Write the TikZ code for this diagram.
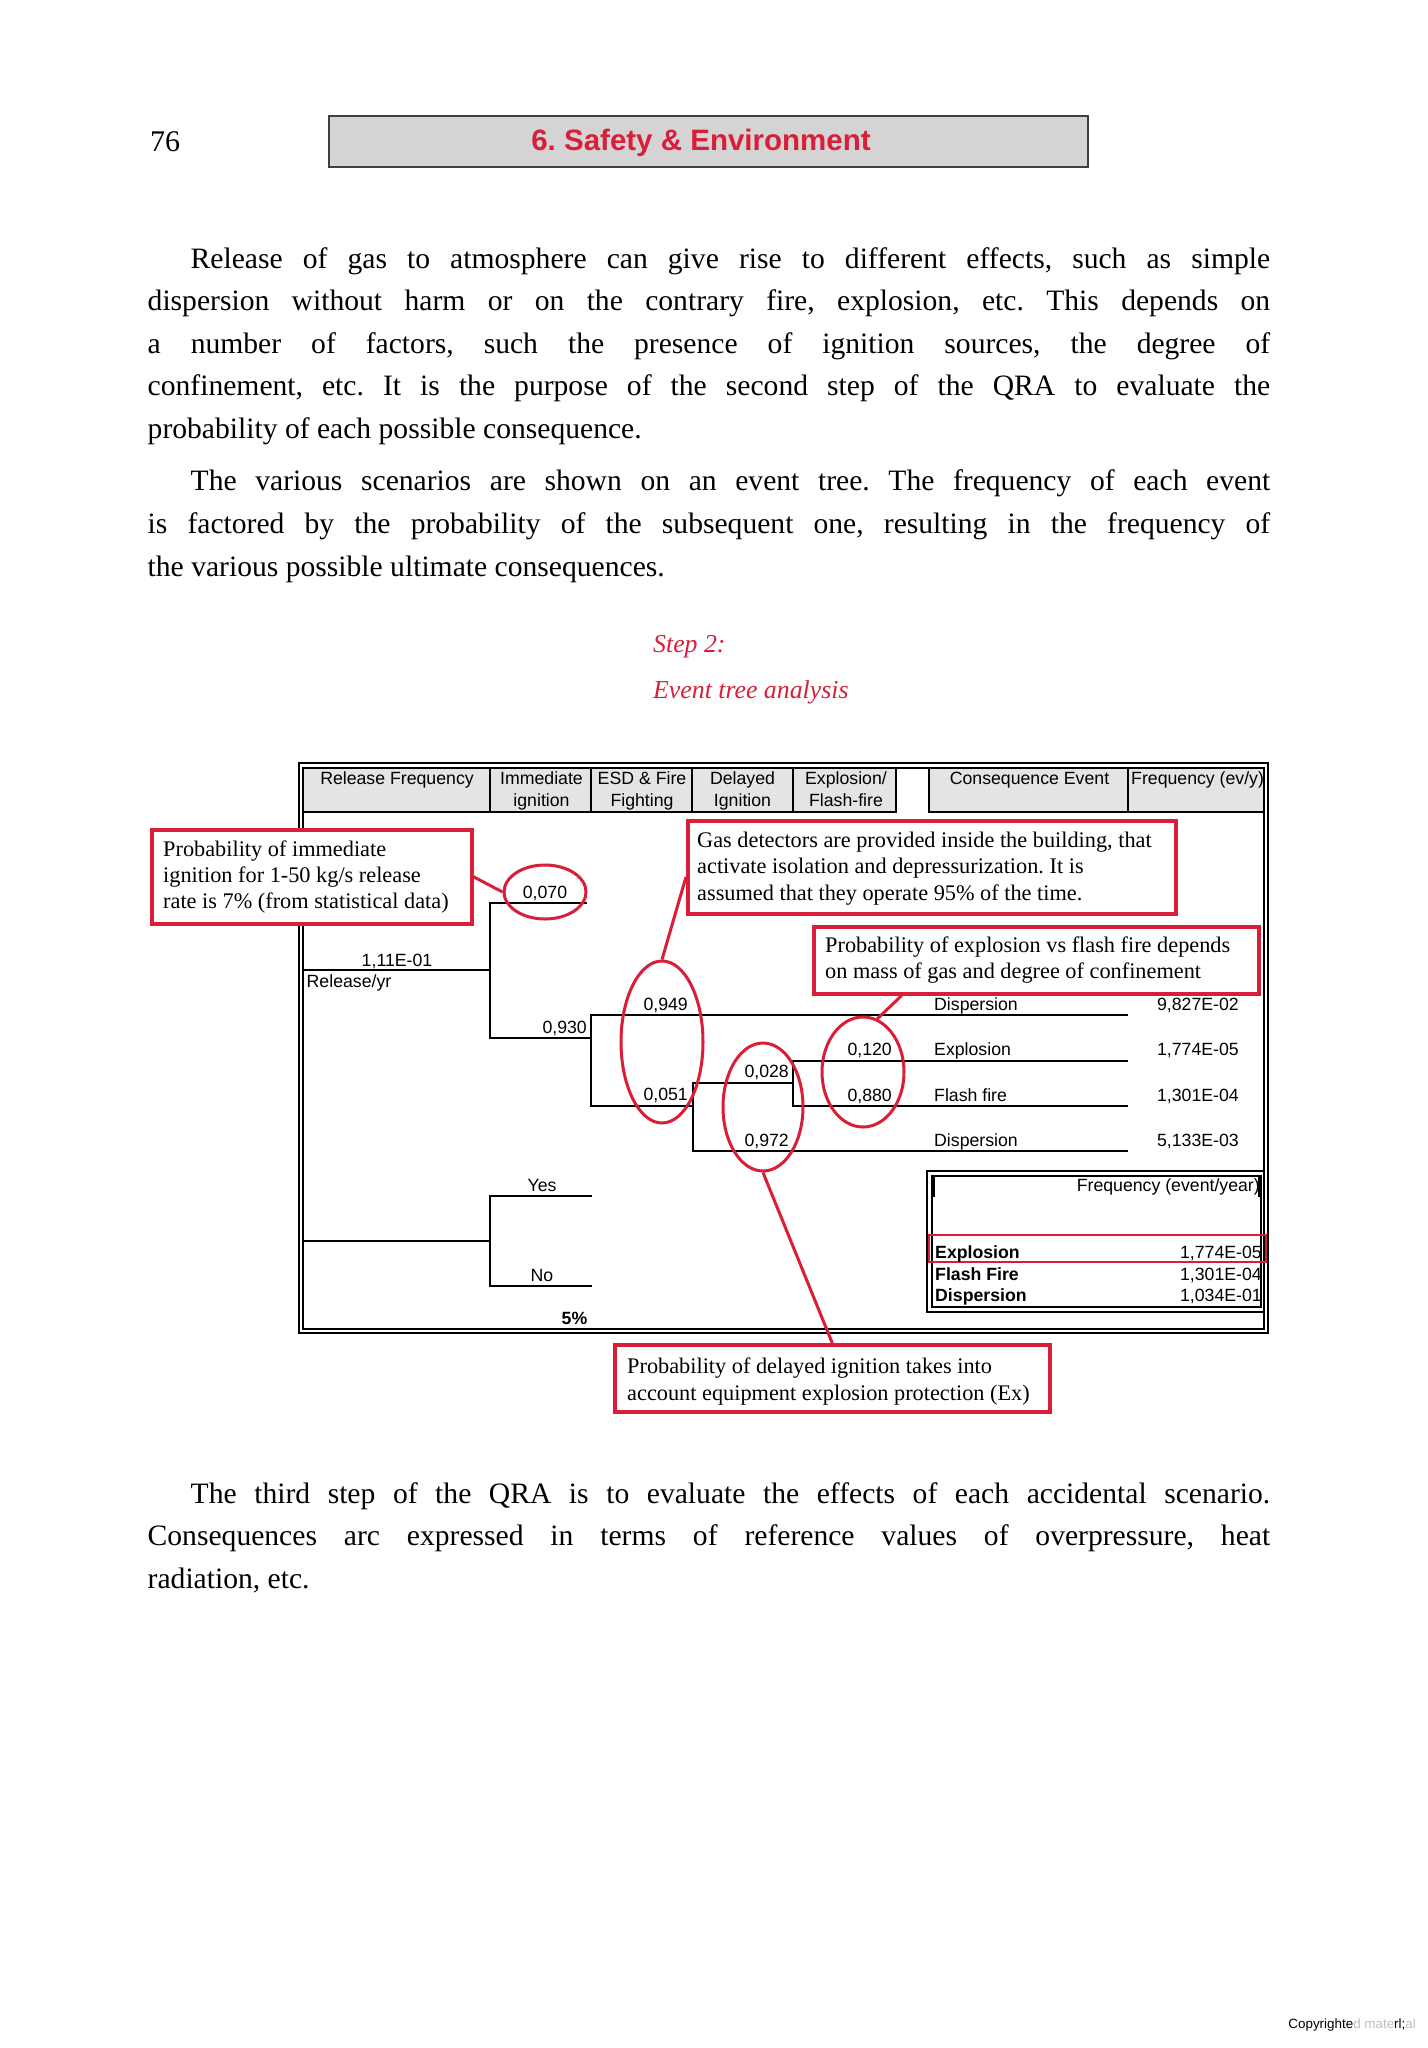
\documentclass[tikz,border=0pt]{standalone}
\usepackage{fontspec}
\setmainfont{Liberation Serif}
\setsansfont{Liberation Sans}
\usetikzlibrary{shapes.geometric,calc}
\definecolor{qred}{RGB}{216,30,56}
\definecolor{hdrgray}{RGB}{212,212,212}
\definecolor{cellgray}{RGB}{228,228,228}
\newcommand\bodyfnt{\fontsize{29.6}{42.4}\selectfont}
\newcommand\dgfnt{\sffamily\fontsize{17.7}{21}\selectfont}
\newcommand\cofnt{\fontsize{22.3}{26.5}\selectfont}
\frenchspacing
\begin{document}
\begin{tikzpicture}[x=1pt,y=-1pt,
  bodyl/.style={anchor=base west, inner sep=0, font=\bodyfnt},
  dg/.style={inner sep=0, font=\dgfnt},
  dgb/.style={inner sep=0, font=\dgfnt\bfseries},
  coline/.style={anchor=base west, inner sep=0, font=\cofnt},
  cobox/.style={draw=qred, line width=3.5pt, anchor=north west, inner sep=0},
  ring/.style={ellipse, draw=qred, line width=3pt, inner sep=0},
  lead/.style={draw=qred, line width=3pt},
  tree/.style={line width=2.5pt, line join=miter},
  frm/.style={line width=2pt},
  cell/.style={draw, line width=2pt, fill=cellgray}]
\useasboundingbox[fill=white] (0,0) rectangle (1427,2048);

% ---------- page header ----------
\node[anchor=base west, inner sep=0, font=\fontsize{30}{36}\selectfont] (pno) at (150,151) {76};
\node[draw=black!75, fill=hdrgray, line width=2pt, anchor=north west, minimum width=759pt, minimum height=51pt, inner sep=0] (hbox) at (328,115) {};
\node[anchor=base, inner sep=0, text=qred, font=\sffamily\bfseries\fontsize{29.5}{34}\selectfont] (htitle) at (701,150.5) {6. Safety \& Environment};

% ---------- paragraph 1 ----------
\node[bodyl] (p1a) at (190.5,268) {\makebox[1079.5pt][s]{Release of gas to atmosphere can give rise to different effects, such as simple}};
\node[bodyl] (p1b) at (147.5,310.5) {\makebox[1122.5pt][s]{dispersion without harm or on the contrary fire, explosion, etc. This depends on}};
\node[bodyl] (p1c) at (147.5,353) {\makebox[1122.5pt][s]{a number of factors, such the presence of ignition sources, the degree of}};
\node[bodyl] (p1d) at (147.5,395.5) {\makebox[1122.5pt][s]{confinement, etc. It is the purpose of the second step of the QRA to evaluate the}};
\node[bodyl] (p1e) at (147.5,438) {probability of each possible consequence.};

% ---------- paragraph 2 ----------
\node[bodyl] (p2a) at (190.5,490) {\makebox[1079.5pt][s]{The various scenarios are shown on an event tree. The frequency of each event}};
\node[bodyl] (p2b) at (147.5,533) {\makebox[1122.5pt][s]{is factored by the probability of the subsequent one, resulting in the frequency of}};
\node[bodyl] (p2c) at (147.5,576) {the various possible ultimate consequences.};

% ---------- step caption ----------
\node[anchor=base west, inner sep=0, text=qred, font=\fontsize{25.8}{31}\selectfont\itshape] (s2a) at (653,652) {Step 2:};
\node[anchor=base west, inner sep=0, text=qred, font=\fontsize{25.8}{31}\selectfont\itshape] (s2b) at (653,698) {Event tree analysis};

% ---------- diagram frame ----------
\draw[frm] (299,763) rectangle (1268,1333);
\draw[frm] (303,768) rectangle (1264,1329);

% header cells
\draw[cell] (303,768) rectangle (490,812);
\draw[cell] (490,768) rectangle (591,812);
\draw[cell] (591,768) rectangle (692,812);
\draw[cell] (692,768) rectangle (793,812);
\draw[cell] (793,768) rectangle (896,812);
\draw[cell] (929,768) rectangle (1128,812);
\draw[cell] (1128,768) rectangle (1264,812);

\node[dg, anchor=base] (h1) at (397,784.5) {Release Frequency};
\node[dg, anchor=base] (h2a) at (541.5,784.5) {Immediate};
\node[dg, anchor=base] (h2b) at (541.5,806.5) {ignition};
\node[dg, anchor=base] (h3a) at (642,784.5) {ESD \& Fire};
\node[dg, anchor=base] (h3b) at (642,806.5) {Fighting};
\node[dg, anchor=base] (h4a) at (742.5,784.5) {Delayed};
\node[dg, anchor=base] (h4b) at (742.5,806.5) {Ignition};
\node[dg, anchor=base] (h5a) at (846,784.5) {Explosion/};
\node[dg, anchor=base] (h5b) at (846,806.5) {Flash-fire};
\node[dg, anchor=base] (h6) at (1029.5,784.5) {Consequence Event};
\node[dg, anchor=base west] (h7) at (1131,784.5) {Frequency (ev/y)};

% ---------- event tree ----------
\coordinate (rel0) at (303,970);
\coordinate (rel1) at (490,970);
\coordinate (imA) at (490,903);
\coordinate (imB) at (490,1038);
\coordinate (imAe) at (587,903);
\coordinate (esA) at (591,1015);
\coordinate (esB) at (591,1106);
\coordinate (dlA) at (693,1083);
\coordinate (dlB) at (693,1151);
\coordinate (exA) at (793,1061);
\coordinate (exB) at (793,1106);

\draw[tree] (rel0) -- (rel1);
\draw[tree] (imAe) -- (imA) -- (imB) -- (esA |- imB);
\draw[tree] (1128,1015) -- (esA) -- (esB) -- (dlA |- esB);
\draw[tree] (exA |- dlA) -- (dlA) -- (dlB) -- (1128,1151);
\draw[tree] (1128,1061) -- (exA) -- (exB) -- (1128,1106);

\node[dg, anchor=base] (l070) at (545,898) {0,070};
\node[dg, anchor=base] (l111) at (397,966) {1,11E-01};
\node[dg, anchor=base west] (lrel) at (306.5,987) {Release/yr};
\node[dg, anchor=base east] (l930) at (587,1033) {0,930};
\node[dg, anchor=base east] (l949) at (688,1010) {0,949};
\node[dg, anchor=base east] (l051) at (688,1100) {0,051};
\node[dg, anchor=base east] (l028) at (789,1077) {0,028};
\node[dg, anchor=base east] (l972) at (789,1146) {0,972};
\node[dg, anchor=base east] (l120) at (892,1055) {0,120};
\node[dg, anchor=base east] (l880) at (892,1101) {0,880};

\node[dg, anchor=base west] (o1) at (934,1010) {Dispersion};
\node[dg, anchor=base west] (o2) at (934,1055) {Explosion};
\node[dg, anchor=base west] (o3) at (934,1101) {Flash fire};
\node[dg, anchor=base west] (o4) at (934,1146) {Dispersion};
\node[dg, anchor=base east] (f1) at (1239,1010) {9,827E-02};
\node[dg, anchor=base east] (f2) at (1239,1055) {1,774E-05};
\node[dg, anchor=base east] (f3) at (1239,1101) {1,301E-04};
\node[dg, anchor=base east] (f4) at (1239,1146) {5,133E-03};

% yes / no tree
\coordinate (yn0) at (303,1241);
\coordinate (yn1) at (490,1241);
\coordinate (ynY) at (490,1196);
\coordinate (ynN) at (490,1286);
\draw[tree] (yn0) -- (yn1);
\draw[tree] (592,1196) -- (ynY) -- (ynN) -- (592,1286);
\node[dg, anchor=base] (lyes) at (542,1191) {Yes};
\node[dg, anchor=base] (lno) at (542,1281) {No};
\node[dgb, anchor=base] (l5) at (574.5,1324) {5\%};

% ---------- summary box ----------
\draw[frm] (927,1171) rectangle (1264,1312);
\draw[frm] (932,1176) rectangle (1261,1307);
\draw[line width=3.5pt] (933.5,1176) -- (933.5,1197);
\draw[line width=3.5pt] (1259.5,1176) -- (1259.5,1197);
\node[dg, anchor=base east] (sfh) at (1260,1191) {Frequency (event/year)};
\draw[qred, line width=2.5pt] (929,1235) rectangle (1266,1262);
\node[dgb, anchor=base west] (s1) at (935,1258) {Explosion};
\node[dg, anchor=base east] (s1v) at (1262,1258) {1,774E-05};
\node[dgb, anchor=base west] (s2) at (935,1280) {Flash Fire};
\node[dg, anchor=base east] (s2v) at (1262,1280) {1,301E-04};
\node[dgb, anchor=base west] (s3) at (935,1301) {Dispersion};
\node[dg, anchor=base east] (s3v) at (1262,1301) {1,034E-01};

% ---------- red rings ----------
\node[ring, minimum width=82pt, minimum height=54pt] (e1) at (545,892) {};
\node[ring, minimum width=82pt, minimum height=162pt] (e2) at (662,1042) {};
\node[ring, minimum width=80pt, minimum height=128pt] (e3) at (763,1107) {};
\node[ring, minimum width=82pt, minimum height=110pt] (e4) at (863,1072) {};

% ---------- callouts ----------
\node[cobox, fill=white, minimum width=320pt, minimum height=94pt] (c1) at (150,828) {};
\node[coline] (c1a) at (163,856) {Probability of immediate};
\node[coline] (c1b) at (163,882) {ignition for 1-50 kg/s release};
\node[coline] (c1c) at (163,908) {rate is 7\% (from statistical data)};

\node[cobox, fill=white, minimum width=488pt, minimum height=93pt] (c2) at (686,819) {};
\node[coline] (c2a) at (697,847) {Gas detectors are provided inside the building, that};
\node[coline] (c2b) at (697,873) {activate isolation and depressurization. It is};
\node[coline] (c2c) at (697,900) {assumed that they operate 95\% of the time.};

\node[cobox, fill=white, minimum width=445pt, minimum height=67pt] (c3) at (812,925) {};
\node[coline] (c3a) at (825,952) {Probability of explosion vs flash fire depends};
\node[coline] (c3b) at (825,978) {on mass of gas and degree of confinement};

\node[cobox, fill=white, minimum width=435pt, minimum height=67pt] (c4) at (613,1343) {};
\node[coline] (c4a) at (627,1373) {Probability of delayed ignition takes into};
\node[coline] (c4b) at (627,1400) {account equipment explosion protection (Ex)};

\draw[lead] (c1.east) -- (e1.west);
\draw[lead] ($(c2.north west)!0.6!(c2.south west)$) -- (e2.north);
\draw[lead] ($(c3.south west)!0.2!(c3.south east)$) -- (e4.75);
\draw[lead] (e3.south) -- (c4.north);

% ---------- paragraph 3 ----------
\node[bodyl] (p3a) at (190.5,1503) {\makebox[1079.5pt][s]{The third step of the QRA is to evaluate the effects of each accidental scenario.}};
\node[bodyl] (p3b) at (147.5,1545) {\makebox[1122.5pt][s]{Consequences arc expressed in terms of reference values of overpressure, heat}};
\node[bodyl] (p3c) at (147.5,1588) {radiation, etc.};

% ---------- footer ----------
\node[anchor=base east, inner sep=0, font=\sffamily\fontsize{13.4}{16}\selectfont] (cpy) at (1416,2028) {Copyrighte\textcolor{black!25}{d mate}rl;\textcolor{black!25}{al}};
\end{tikzpicture}
\end{document}
